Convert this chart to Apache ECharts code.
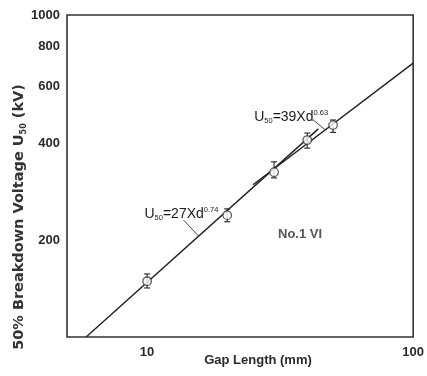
<!DOCTYPE html>
<html>
<head>
<meta charset="utf-8">
<script src="https://cdn.jsdelivr.net/npm/echarts@6/dist/echarts.min.js"></script>
<style>
  html, body { margin: 0; padding: 0; background: #fff; }
  #chart { width: 427px; height: 376px; }
</style>
</head>
<body>
<div id="chart"></div>
<script>
// Measured 50% breakdown voltages versus gap length
const gapLength = [10, 20, 30, 40, 50];          // mm
const u50       = [149, 239, 325, 409, 455];     // kV
const u50Low    = [142, 228, 312, 386, 432];     // kV, lower end of spread
const u50High   = [157, 250, 350, 430, 472];     // kV, upper end of spread

// Fitted power laws, given by their end points (straight on log-log axes)
const fitLow  = [[5.9, 100], [44, 443]];   // U50 = 27·d^0.74
const fitHigh = [[25, 297], [100, 709]];   // U50 = 39·d^0.63

const xTickValues = [10, 100];
const yTickValues = [200, 400, 600, 800, 1000];

const FONT = 'Liberation Sans';
const INK = '#2a2a2a';

const chart = echarts.init(document.getElementById('chart'), null, { renderer: 'canvas' });

const points = gapLength.map((d, i) => [d, u50[i]]);
const spreads = gapLength.map((d, i) => [d, u50Low[i], u50High[i]]);

chart.setOption({
  animation: false,
  grid: {
    left: 67, right: 10, top: 15, bottom: 39,
    show: true, borderColor: '#333', borderWidth: 1.6, backgroundColor: 'transparent'
  },
  xAxis: {
    type: 'log', logBase: 10, min: 5, max: 100,
    axisLine: { show: false },
    axisTick: { show: false },
    splitLine: { show: false },
    minorTick: { show: false },
    axisLabel: {
      customValues: xTickValues,
      fontFamily: FONT, fontWeight: 'bold', fontSize: 13, color: INK, margin: 9,
      formatter: v => String(Math.round(v))
    }
  },
  yAxis: {
    type: 'log', logBase: 10, min: 100, max: 1000,
    axisLine: { show: false },
    axisTick: { show: false },
    splitLine: { show: false },
    axisLabel: {
      customValues: yTickValues,
      fontFamily: FONT, fontWeight: 'bold', fontSize: 13, color: INK, margin: 7,
      formatter: v => String(Math.round(v))
    }
  },
  series: [
    {
      name: '27Xd^0.74', type: 'line', data: fitLow, symbol: 'none',
      lineStyle: { color: '#222', width: 1.4 }, z: 2
    },
    {
      name: '39Xd^0.63', type: 'line', data: fitHigh, symbol: 'none',
      lineStyle: { color: '#222', width: 1.4 }, z: 2
    },
    {
      name: 'spread', type: 'custom', data: spreads, z: 3,
      encode: { x: 0, y: [1, 2] },
      renderItem: (params, api) => {
        const d = api.value(0);
        const lo = api.coord([d, api.value(1)]);
        const hi = api.coord([d, api.value(2)]);
        const cap = 3;
        const style = { stroke: '#333', lineWidth: 1.2 };
        return {
          type: 'group',
          children: [
            { type: 'line', shape: { x1: lo[0], y1: lo[1], x2: hi[0], y2: hi[1] }, style },
            { type: 'line', shape: { x1: lo[0] - cap, y1: lo[1], x2: lo[0] + cap, y2: lo[1] }, style },
            { type: 'line', shape: { x1: hi[0] - cap, y1: hi[1], x2: hi[0] + cap, y2: hi[1] }, style }
          ]
        };
      }
    },
    {
      name: 'U50', type: 'scatter', data: points, z: 4,
      symbol: 'circle', symbolSize: 8.5,
      itemStyle: { color: '#fff', borderColor: '#333', borderWidth: 1.3 }
    }
  ]
});

// Titles and fit annotations
const richEq = {
  b:   { fontFamily: FONT, fontSize: 14, fill: '#1a1a1a', lineHeight: 16 },
  sub: { fontFamily: FONT, fontSize: 7.5, fill: '#1a1a1a', verticalAlign: 'bottom', lineHeight: 6 },
  sup: { fontFamily: FONT, fontSize: 7.5, fill: '#1a1a1a', verticalAlign: 'top', lineHeight: 6 }
};

const anchorLow  = chart.convertToPixel({ gridIndex: 0 }, [15.6, 206]);
const anchorHigh = chart.convertToPixel({ gridIndex: 0 }, [46.7, 440]);

chart.setOption({
  graphic: [
    {
      type: 'text', silent: true, x: 258, y: 354,
      style: {
        text: 'Gap Length (mm)', fontFamily: FONT, fontWeight: 'bold', fontSize: 13,
        fill: INK, align: 'center', verticalAlign: 'top'
      }
    },
    {
      type: 'text', silent: true, x: 19, y: 217, rotation: Math.PI / 2,
      style: {
        text: '{t|50% Breakdown Voltage U}{s|50}{t| (kV)}',
        align: 'center', verticalAlign: 'middle',
        rich: {
          t: { fontFamily: 'DejaVu Sans', fontWeight: 'bold', fontSize: 14.5, fill: '#333', lineHeight: 18 },
          s: { fontFamily: 'DejaVu Sans', fontWeight: 'bold', fontSize: 8, fill: '#333', verticalAlign: 'bottom', lineHeight: 8 }
        }
      }
    },
    {
      type: 'text', silent: true, x: 278, y: 228,
      style: {
        text: 'No.1 VI', fontFamily: FONT, fontWeight: 'bold', fontSize: 13, fill: '#555',
        align: 'left', verticalAlign: 'top'
      }
    },
    {
      type: 'line', silent: true,
      shape: { x1: anchorLow[0] - 15, y1: anchorLow[1] - 16, x2: anchorLow[0], y2: anchorLow[1] },
      style: { stroke: '#333', lineWidth: 0.9 }
    },
    {
      type: 'text', silent: true, x: anchorLow[0] - 54, y: anchorLow[1] - 22,
      style: {
        text: '{b|U}{sub|50}{b|=27Xd}{sup|0.74}', rich: richEq,
        align: 'left', verticalAlign: 'middle'
      }
    },
    {
      type: 'line', silent: true,
      shape: { x1: anchorHigh[0] - 12, y1: anchorHigh[1] - 10, x2: anchorHigh[0], y2: anchorHigh[1] },
      style: { stroke: '#333', lineWidth: 0.9 }
    },
    {
      type: 'text', silent: true, x: anchorHigh[0] - 71, y: anchorHigh[1] - 13,
      style: {
        text: '{b|U}{sub|50}{b|=39Xd}{sup|0.63}', rich: richEq,
        align: 'left', verticalAlign: 'middle'
      }
    }
  ]
});
</script>
</body>
</html>
